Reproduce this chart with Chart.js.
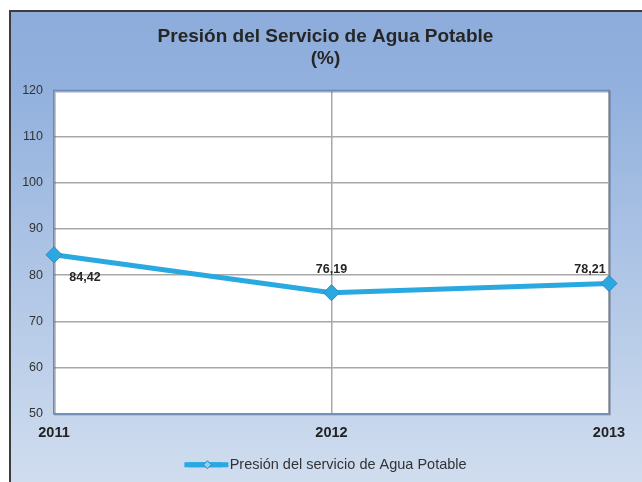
<!DOCTYPE html>
<html>
<head>
<meta charset="utf-8">
<script src="https://cdn.jsdelivr.net/npm/chart.js@4/dist/chart.umd.min.js"></script>
<style>
  html, body { margin: 0; padding: 0; background: #fff; }
  #wrap { width: 642px; height: 482px; }
</style>
</head>
<body>
<div id="wrap"><canvas id="myChart" width="642" height="482"></canvas></div>
<script>
// data
const years = ['2011', '2012', '2013'];
const presion = [84.42, 76.19, 78.21];
const yTicks = [50, 60, 70, 80, 90, 100, 110, 120];
const titleLines = ['Presión del Servicio de Agua Potable', '(%)'];
const seriesName = 'Presión del servicio de Agua Potable';

const lineBlue = '#2aa9e0';
const markerEdge = '#3a7fc4';
const FONT = '"Liberation Sans", Arial, sans-serif';

// frame + gradient behind everything
const framePlugin = {
    id: 'frame',
    beforeDraw(chart) {
        const ctx = chart.ctx;
        ctx.save();
        ctx.fillStyle = '#ffffff';
        ctx.fillRect(0, 0, chart.width, chart.height);
        const g = ctx.createLinearGradient(0, 10, 0, chart.height);
        g.addColorStop(0, '#8dacdb');
        g.addColorStop(0.15, '#91b0dd');
        g.addColorStop(1, '#d0ddef');
        ctx.fillStyle = g;
        ctx.fillRect(9, 10, chart.width - 9, chart.height - 10);
        ctx.strokeStyle = '#3c3c3c';
        ctx.lineWidth = 2;
        ctx.beginPath();
        ctx.moveTo(10, chart.height);
        ctx.lineTo(10, 11);
        ctx.lineTo(chart.width, 11);
        ctx.stroke();
        // plot area
        const a = chart.chartArea;
        ctx.fillStyle = '#ffffff';
        ctx.fillRect(a.left, a.top, a.right - a.left, a.bottom - a.top);
        ctx.restore();
    },
    beforeDatasetsDraw(chart) {
        const ctx = chart.ctx;
        const a = chart.chartArea;
        ctx.save();
        ctx.strokeStyle = 'rgba(60,90,140,0.35)';
        ctx.lineWidth = 2;
        ctx.strokeRect(a.left + 1, a.top + 1, a.right - a.left, a.bottom - a.top);
        ctx.strokeStyle = '#5f86bd';
        ctx.lineWidth = 1;
        ctx.strokeRect(a.left - 0.5, a.top - 0.5, a.right - a.left + 1, a.bottom - a.top + 1);
        ctx.strokeStyle = '#7a8596';
        ctx.beginPath();
        ctx.moveTo(a.left - 0.5, a.top);
        ctx.lineTo(a.left - 0.5, a.bottom);
        ctx.stroke();
        ctx.restore();
    }
};

// value labels next to the points, diamond on the legend line
const valueLabels = {
    id: 'valueLabels',
    afterDatasetsDraw(chart) {
        const ctx = chart.ctx;
        const pts = chart.getDatasetMeta(0).data;
        const place = [[31, 23], [0, -23], [-19, -14]];
        ctx.save();
        ctx.font = 'bold 12.5px ' + FONT;
        ctx.fillStyle = '#262626';
        ctx.textAlign = 'center';
        ctx.textBaseline = 'middle';
        pts.forEach((p, i) => {
            const txt = presion[i].toFixed(2).replace('.', ',');
            ctx.fillText(txt, p.x + place[i][0], p.y + place[i][1]);
        });
        ctx.restore();
    },
    afterDraw(chart) {
        const lg = chart.legend;
        if (!lg || !lg.legendHitBoxes || !lg.legendHitBoxes.length) return;
        const hb = lg.legendHitBoxes[0];
        const bw = lg.options.labels.boxWidth;
        const cx = hb.left + 4 + bw / 2;
        const cy = hb.top + hb.height / 2;
        const ctx = chart.ctx;
        ctx.save();
        ctx.fillStyle = lineBlue;
        ctx.fillRect(hb.left + 4, cy - 2.5, bw + 2, 5);
        ctx.fillStyle = '#8fd0f0';
        ctx.strokeStyle = markerEdge;
        ctx.lineWidth = 1;
        ctx.beginPath();
        ctx.moveTo(cx - 4, cy); ctx.lineTo(cx, cy - 4); ctx.lineTo(cx + 4, cy); ctx.lineTo(cx, cy + 4);
        ctx.closePath();
        ctx.fill();
        ctx.stroke();
        ctx.restore();
    }
};

new Chart(document.getElementById('myChart').getContext('2d'), {
    type: 'line',
    data: {
        labels: years,
        datasets: [{
            label: seriesName,
            data: presion,
            borderColor: lineBlue,
            backgroundColor: lineBlue,
            borderWidth: 5,
            pointStyle: 'rectRot',
            pointRadius: 8,
            pointHoverRadius: 8,
            pointBackgroundColor: lineBlue,
            pointBorderColor: markerEdge,
            pointBorderWidth: 1,
            tension: 0,
            clip: false
        }]
    },
    options: {
        responsive: false,
        animation: false,
        layout: { padding: { left: 9, top: 10, right: 0, bottom: 0 } },
        scales: {
            x: {
                offset: false,
                afterFit: (scale) => { scale.height = 34; },
                grid: { color: '#a8a8a8', lineWidth: 1.5, drawTicks: false },
                border: { display: false },
                ticks: {
                    padding: 11,
                    color: '#222',
                    font: { family: FONT, size: 14.5, weight: 'bold' },
                    maxRotation: 0
                }
            },
            y: {
                min: 50,
                max: 120,
                afterBuildTicks: (scale) => { scale.ticks = yTicks.map(v => ({ value: v })); },
                afterFit: (scale) => { scale.width = 45; },
                grid: { color: '#a8a8a8', lineWidth: 1.5, drawTicks: false },
                border: { display: false },
                ticks: {
                    padding: 11,
                    color: '#333',
                    font: { family: FONT, size: 12.5 }
                }
            },
            y2: {
                position: 'right',
                min: 50,
                max: 120,
                afterFit: (scale) => { scale.width = 33; },
                grid: { display: false, drawTicks: false },
                border: { display: false },
                ticks: { display: false }
            }
        },
        plugins: {
            title: {
                display: true,
                text: titleLines,
                color: '#262626',
                font: { family: FONT, size: 19, weight: 'bold', lineHeight: 1.15 },
                padding: { top: 16, bottom: 21 }
            },
            legend: {
                position: 'bottom',
                labels: {
                    boxWidth: 38,
                    boxHeight: 5,
                    color: '#333',
                    font: { family: FONT, size: 14.5 },
                    generateLabels: (chart) => Chart.defaults.plugins.legend.labels.generateLabels(chart).map(l => ({ ...l, lineWidth: 0, fillStyle: lineBlue }))
                }
            },
            tooltip: { enabled: false }
        }
    },
    plugins: [framePlugin, valueLabels]
});
</script>
</body>
</html>
